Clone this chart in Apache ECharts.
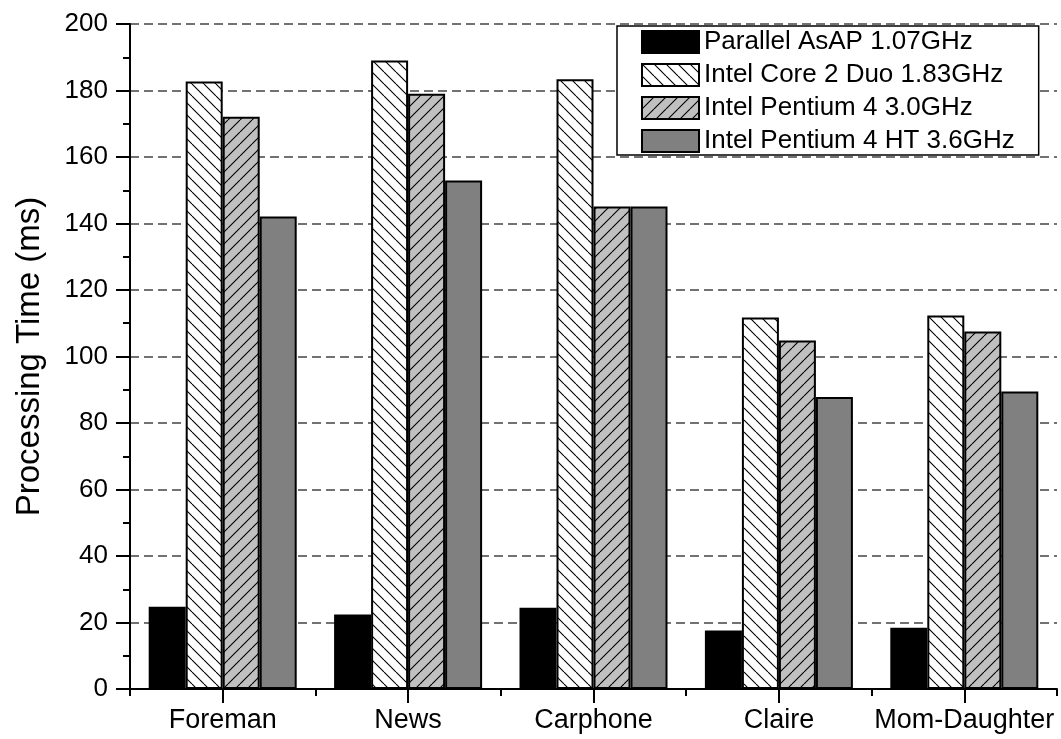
<!DOCTYPE html>
<html>
<head>
<meta charset="utf-8">
<script src="https://cdn.jsdelivr.net/npm/echarts@6/dist/echarts.min.js"></script>
<style>
html,body{margin:0;padding:0;background:#fff;}
#chart{width:1061px;height:739px;}
</style>
</head>
<body>
<div id="chart"></div>
<script>
const categories = ['Foreman', 'News', 'Carphone', 'Claire', 'Mom-Daughter'];
const seriesNames = ['Parallel AsAP 1.07GHz', 'Intel Core 2 Duo 1.83GHz', 'Intel Pentium 4 3.0GHz', 'Intel Pentium 4 HT 3.6GHz'];
const asap = [24.7, 22.4, 24.4, 17.6, 18.4];
const core2duo = [182.7, 189.0, 183.4, 111.7, 112.3];
const pentium4 = [172.1, 179.0, 145.1, 104.8, 107.5];
const pentium4ht = [142.1, 152.9, 145.1, 87.8, 89.5];
const yTicks = [0, 20, 40, 60, 80, 100, 120, 140, 160, 180, 200];
const yAxisTitle = 'Processing Time (ms)';

function hatch(bg, dir, size) {
  const c = document.createElement('canvas');
  c.width = size; c.height = size;
  const g = c.getContext('2d');
  g.fillStyle = bg; g.fillRect(0, 0, size, size);
  g.strokeStyle = '#000'; g.lineWidth = 1.1;
  g.beginPath();
  for (let k = -1; k <= 1; k++) {
    if (dir === 'back') { g.moveTo(k * size, 0); g.lineTo(k * size + size, size); }
    else { g.moveTo(k * size, size); g.lineTo(k * size + size, 0); }
  }
  g.stroke();
  return c;
}

const fills = [
  '#000000',
  { image: hatch('#ffffff', 'back', 12), repeat: 'repeat' },
  { image: hatch('#c0c0c0', 'fwd', 12), repeat: 'repeat' },
  '#808080'
];
const dataSets = [asap, core2duo, pentium4, pentium4ht];

const chart = echarts.init(document.getElementById('chart'), null, { renderer: 'canvas' });
const font = 'Liberation Sans, Arial, sans-serif';

chart.setOption({
  animation: false,
  backgroundColor: '#ffffff',
  grid: { left: 130, right: 4, top: 24, bottom: 50, containLabel: false },
  legend: {
    orient: 'vertical',
    left: 617, top: 26,
    itemWidth: 57, itemHeight: 22, itemGap: 7,
    padding: [3, 24, 1, 24],
    backgroundColor: '#fff',
    borderColor: '#000', borderWidth: 1.5,
    icon: 'rect',
    textStyle: { fontFamily: font, fontSize: 26, color: '#000', lineHeight: 26 },
    data: seriesNames
  },
  xAxis: [
    {
      type: 'category', data: categories, position: 'bottom',
      axisLine: { show: true, onZero: false, lineStyle: { color: '#000', width: 2 } },
      axisTick: { show: true, alignWithLabel: true, length: 14, lineStyle: { color: '#000', width: 2 } },
      axisLabel: { fontFamily: font, fontSize: 27, color: '#000', margin: 18, interval: 0 },
      splitLine: { show: false }
    },
    {
      type: 'category', data: categories, position: 'bottom',
      axisLine: { show: false, onZero: false },
      axisTick: { show: true, alignWithLabel: false, length: 7, lineStyle: { color: '#000', width: 2 } },
      axisLabel: { show: false },
      splitLine: { show: false }
    }
  ],
  yAxis: {
    type: 'value', min: 0, max: 200, interval: 20,
    name: yAxisTitle, nameLocation: 'middle', nameGap: 84,
    nameTextStyle: { fontFamily: font, fontSize: 33, color: '#000' },
    axisLine: { show: true, lineStyle: { color: '#000', width: 2 } },
    axisTick: { show: true, length: 14, lineStyle: { color: '#000', width: 2 } },
    minorTick: { show: true, splitNumber: 2, length: 7, lineStyle: { color: '#000', width: 2 } },
    axisLabel: {
      fontFamily: font, fontSize: 26, color: '#000', margin: 22,
      formatter: v => (yTicks.indexOf(v) >= 0 ? String(v) : '')
    },
    splitLine: { show: true, lineStyle: { color: '#444', width: 1.5, type: [9, 5] } }
  },
  series: dataSets.map((d, i) => ({
    name: seriesNames[i],
    type: 'bar',
    xAxisIndex: 0,
    data: d,
    barWidth: 37,
    barGap: '0%',
    itemStyle: { color: fills[i], borderColor: '#000', borderWidth: 2 }
  }))
});
</script>
</body>
</html>
